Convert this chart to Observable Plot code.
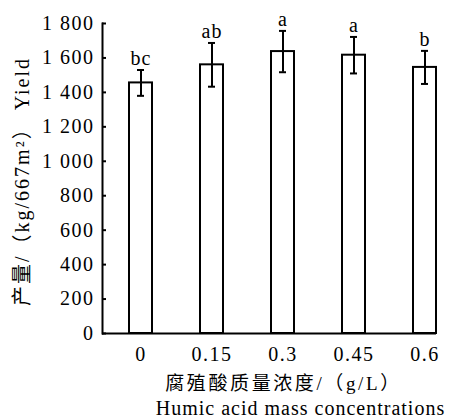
<!DOCTYPE html>
<html>
<head>
<meta charset="utf-8">
<script src="https://cdn.jsdelivr.net/npm/d3@7"></script>
<script src="https://cdn.jsdelivr.net/npm/@observablehq/plot@0.6"></script>
<style>
  html, body { margin: 0; padding: 0; background: #fff; }
  svg { display: block; }
</style>
</head>
<body>
<div id="chart"></div>
<script>
const categories = ["0", "0.15", "0.3", "0.45", "0.6"];
const yields = [1455, 1560, 1637, 1616, 1545];
const errors = [75, 127, 120, 106, 96];
const letters = ["bc", "ab", "a", "a", "b"];
const yTicks = [0, 200, 400, 600, 800, 1000, 1200, 1400, 1600, 1800];
const xTitleCN = "腐殖酸质量浓度/（g/L）";
const xTitleEN = "Humic acid mass concentrations";
const yTitle = "产量/（kg/667m²） Yield";

const data = categories.map((c, i) => ({c, v: yields[i], e: errors[i], l: letters[i]}));
const fmt = d => d >= 1000 ? `${Math.floor(d / 1000)} ${String(d % 1000).padStart(3, "0")}` : String(d);
const serif = "'Liberation Serif', 'Times New Roman', 'Noto Sans CJK SC', serif";

const W = 449, H = 419, ML = 102, MR = 13, MT = 23, MB = 86;
const frameW = W - ML - MR;

const chart = Plot.plot({
  width: W,
  height: H,
  marginLeft: ML,
  marginRight: MR,
  marginTop: MT,
  marginBottom: MB,
  style: {background: "#fff", color: "#000", fontFamily: serif},
  x: {domain: categories, paddingInner: 0.68, paddingOuter: 0.1675, align: 1, label: null},
  y: {domain: [0, 1800], label: null},
  marks: [
    Plot.barY(data, {x: "c", y: "v", fill: "#fff", stroke: "#000", strokeWidth: 2}),
    Plot.ruleX(data, {x: "c", y1: d => d.v - d.e, y2: d => d.v + d.e, stroke: "#000", strokeWidth: 2}),
    Plot.tickY(data, {x: "c", y: d => d.v + d.e, stroke: "#000", strokeWidth: 2, insetLeft: 8, insetRight: 8}),
    Plot.tickY(data, {x: "c", y: d => d.v - d.e, stroke: "#000", strokeWidth: 2, insetLeft: 8, insetRight: 8}),
    Plot.text(data, {x: "c", y: d => d.v + d.e, text: "l", dy: -5, lineAnchor: "bottom", fontSize: 20, fontFamily: serif, fill: "#000"}),
    Plot.ruleY(yTicks, {y: d => d, insetRight: frameW - 4, stroke: "#000", strokeWidth: 2}),
    Plot.ruleY([0], {stroke: "#000", strokeWidth: 2}),
    Plot.frame({anchor: "left", stroke: "#000", strokeWidth: 2}),
    Plot.axisY({ticks: yTicks, tickSize: 0, tickPadding: 8, tickFormat: fmt, fontSize: 20, fontFamily: serif, label: null}),
    Plot.axisX({tickSize: 0, tickPadding: 13, fontSize: 20, fontFamily: serif, label: null}),
    Plot.text([xTitleCN], {frameAnchor: "bottom", textAnchor: "middle", lineAnchor: "middle", dx: 14, dy: 50, fontSize: 19, fontFamily: serif, fill: "#000"}),
    Plot.text([xTitleEN], {frameAnchor: "bottom", textAnchor: "middle", lineAnchor: "middle", dx: 31, dy: 75, fontSize: 20, fontFamily: serif, fill: "#000"}),
    Plot.text([yTitle], {frameAnchor: "left", textAnchor: "middle", lineAnchor: "middle", rotate: -90, dx: -80, dy: 3, fontSize: 20, fontFamily: serif, fill: "#000"})
  ]
});
document.getElementById("chart").appendChild(chart);

// letter spacing to mimic the wide typesetting of the reference
const spacing = new Map([[xTitleCN, 2.6], [xTitleEN, 1], [yTitle, 2]]);
d3.select(chart).selectAll("text").each(function() {
  const t = this.textContent;
  const ls = spacing.has(t) ? spacing.get(t) : (letters.includes(t) ? 1 : 1.5);
  d3.select(this).attr("letter-spacing", ls);
});
</script>
</body>
</html>
